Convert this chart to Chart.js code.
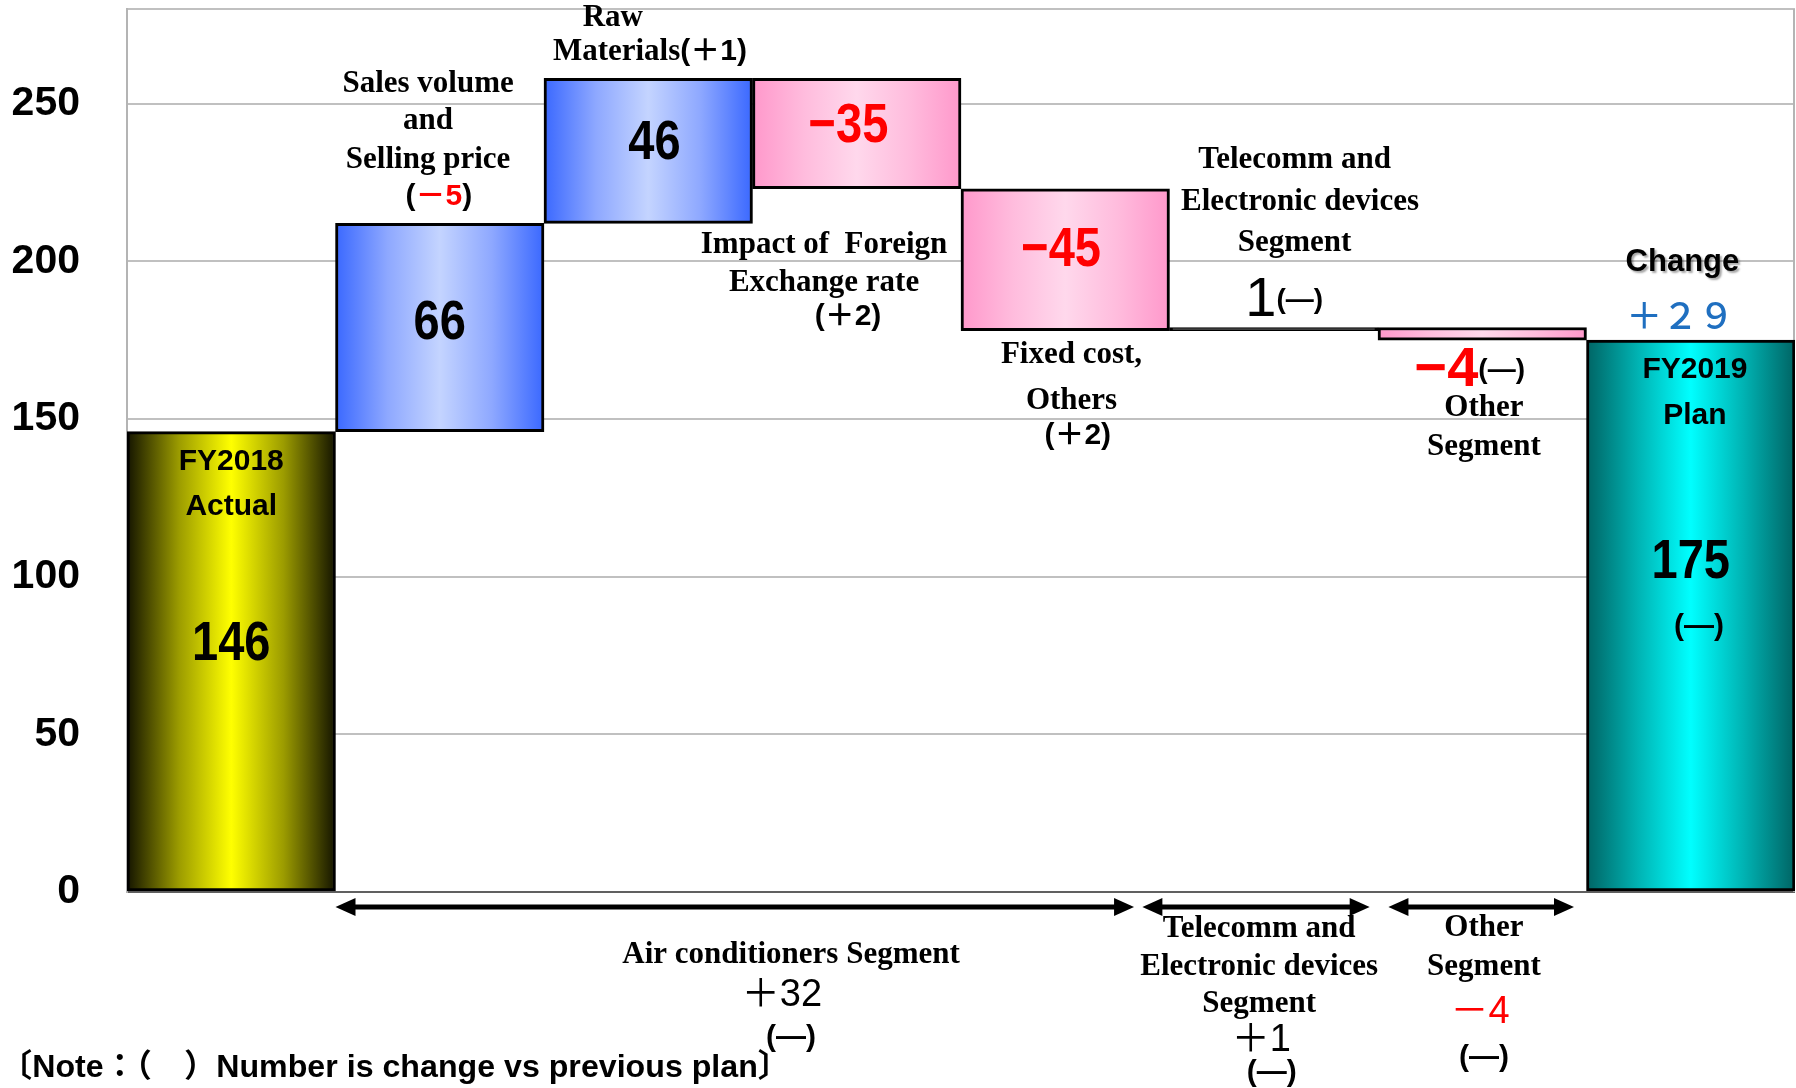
<!DOCTYPE html>
<html>
<head>
<meta charset="utf-8">
<script src="https://cdn.jsdelivr.net/npm/chart.js@4.4.0/dist/chart.umd.min.js"></script>
<style>
  html, body { margin: 0; padding: 0; background: #fff; }
  #chartContainer { width: 1796px; height: 1088px; position: relative; }
</style>
</head>
<body>
<div id="chartContainer"><canvas id="myChart"></canvas></div>
<script>
// bridge data (operating income), first and last are totals
const categories = [
    ['FY2018', 'Actual'],
    ['Sales volume', 'and', 'Selling price'],
    ['Raw', 'Materials'],
    ['Impact of  Foreign', 'Exchange rate'],
    ['Fixed cost,', 'Others'],
    ['Telecomm and', 'Electronic devices', 'Segment'],
    ['Other', 'Segment'],
    ['FY2019', 'Plan']
];
const amounts = [146, 66, 46, -35, -45, 1, -4, 175];
const vsPrevPlan = ['', '－5', '＋1', '＋2', '＋2', '—', '—', '—'];
const yTicks = [0, 50, 100, 150, 200, 250];
const yMax = 280;
const segmentNames = [
    ['Air conditioners Segment'],
    ['Telecomm and', 'Electronic devices', 'Segment'],
    ['Other', 'Segment']
];
const segmentChange = [32, 1, -4];
const segmentVsPrev = ['—', '—', '—'];
const totalChange = 29;
const noteText = '〔Note：（　）Number is change vs previous plan〕';

const RED = '#ff0000';
const BLUE = '#1f6fc0';
const SERIF = 'bold 31px "Liberation Serif", serif';
function goth(size, w) {
    return (w || 'bold') + ' ' + size + 'px "Liberation Sans", "Noto Sans CJK JP", sans-serif';
}
const BIG = goth(56);

function sgn(v) { return v < 0 ? '−' + Math.abs(v) : String(v); }
function plus(v) { return v < 0 ? '－' + Math.abs(v) : '＋' + v; }
function wide(s) { return s.replace(/[0-9]/g, d => String.fromCharCode(d.charCodeAt(0) + 0xFEE0)); }

// floating bars [from, to]
function buildSteps() {
    let run = 0;
    const out = [];
    amounts.forEach((a, i) => {
        if (i === 0 || i === amounts.length - 1) {
            out.push([0, a]);
            run = a;
        } else {
            out.push([run, run + a]);
            run += a;
        }
    });
    return out;
}

function barFill(c) {
    const chart = c.chart;
    if (!chart.chartArea || c.dataIndex === undefined) return '#999';
    const i = c.dataIndex;
    // a one-unit step is only a few px tall: shows as a black line
    if (Math.abs(amounts[i]) <= 1) return '#000';
    const xs = chart.scales.x;
    const half = xs.width / categories.length / 2;
    const cx = xs.getPixelForValue(i);
    const g = chart.ctx.createLinearGradient(cx - half, 0, cx + half, 0);
    let stops;
    if (i === 0) {
        stops = ['#141400', '#9c9c00', '#ffff00', '#9c9c00', '#141400'];
    } else if (i === amounts.length - 1) {
        stops = ['#006464', '#00b4b4', '#00ffff', '#00b4b4', '#006464'];
    } else if (amounts[i] >= 0) {
        stops = ['#3a68ff', '#8ea8ff', '#c4d4ff', '#8ea8ff', '#3a68ff'];
    } else {
        stops = ['#ff98cb', '#ffbcdd', '#ffd8ec', '#ffbcdd', '#ff98cb'];
    }
    stops.forEach((s, k) => g.addColorStop(k / (stops.length - 1), s));
    return g;
}

function lab(i, v, runs, extra) {
    return Object.assign({ i: i, v: v, runs: runs }, extra || {});
}

function labelList() {
    const c = categories;
    const L = [];
    // FY2018
    L.push(lab(0, 136.4, [[c[0][0], goth(30)]]));
    L.push(lab(0, 122.1, [[c[0][1], goth(30)]]));
    L.push(lab(0, 78.6, [[sgn(amounts[0]), BIG]], { sx: 0.84 }));
    // sales volume
    L.push(lab(0.944, 256.2, [[c[1][0], SERIF]]));
    L.push(lab(0.944, 244.5, [[c[1][1], SERIF]]));
    L.push(lab(0.944, 232.1, [[c[1][2], SERIF]]));
    L.push(lab(0.996, 220.4, [['(', goth(30)], [vsPrevPlan[1], goth(30), RED], [')', goth(30)]]));
    L.push(lab(1.0, 180.1, [[sgn(amounts[1]), BIG]], { sx: 0.84 }));
    // raw materials
    L.push(lab(1.83, 277.1, [[c[2][0], SERIF]]));
    L.push(lab(2.008, 266.4, [[c[2][1], SERIF], ['(' + vsPrevPlan[2] + ')', goth(30)]]));
    L.push(lab(2.03, 237.2, [[sgn(amounts[2]), BIG]], { sx: 0.84 }));
    // foreign exchange
    L.push(lab(2.96, 242.6, [[sgn(amounts[3]), BIG, RED]], { sx: 0.84 }));
    L.push(lab(2.843, 205.2, [[c[3][0], SERIF]]));
    L.push(lab(2.843, 193.1, [[c[3][1], SERIF]]));
    L.push(lab(2.958, 182.3, [['(' + vsPrevPlan[3] + ')', goth(30)]]));
    // fixed cost
    L.push(lab(3.98, 203.3, [[sgn(amounts[4]), BIG, RED]], { sx: 0.84 }));
    L.push(lab(4.03, 170.3, [[c[4][0], SERIF]]));
    L.push(lab(4.03, 155.7, [[c[4][1], SERIF]]));
    L.push(lab(4.06, 144.6, [['(' + vsPrevPlan[4] + ')', goth(30)]]));
    // telecomm
    L.push(lab(5.10, 232.1, [[c[5][0], SERIF]]));
    L.push(lab(5.126, 218.8, [[c[5][1], SERIF]]));
    L.push(lab(5.10, 205.8, [[c[5][2], SERIF]]));
    L.push(lab(5.05, 187.7, [[sgn(amounts[5]), goth(56, 'normal')], ['(' + vsPrevPlan[5] + ')', goth(28)]]));
    // other
    L.push(lab(5.94, 165.5, [[sgn(amounts[6]), BIG, RED], ['(' + vsPrevPlan[6] + ')', goth(28)]]));
    L.push(lab(6.008, 153.5, [[c[6][0], SERIF]]));
    L.push(lab(6.008, 141.1, [[c[6][1], SERIF]]));
    // FY2019 plan
    L.push(lab(6.96, 199.5, [['Change', goth(31)]], { shadow: true }));
    L.push(lab(6.95, 183.0, [[wide(plus(totalChange)), '500 36px "Noto Sans CJK JP", sans-serif', BLUE]]));
    L.push(lab(7.02, 165.5, [[c[7][0], goth(30)]]));
    L.push(lab(7.02, 150.9, [[c[7][1], goth(30)]]));
    L.push(lab(7.0, 104.6, [[sgn(amounts[7]), BIG]], { sx: 0.84 }));
    L.push(lab(7.04, 84.0, [['(' + vsPrevPlan[7] + ')', goth(30)]]));
    // segments below the axis
    L.push(lab(2.685, -20.0, [[segmentNames[0][0], SERIF]]));
    L.push(lab(2.641, -32.7, [[plus(segmentChange[0]), goth(38, 'normal')]]));
    L.push(lab(2.685, -46.3, [['(' + segmentVsPrev[0] + ')', goth(30)]]));
    L.push(lab(4.93, -11.6, [[segmentNames[1][0], SERIF]]));
    L.push(lab(4.93, -23.7, [[segmentNames[1][1], SERIF]]));
    L.push(lab(4.93, -35.5, [[segmentNames[1][2], SERIF]]));
    L.push(lab(4.94, -47.2, [[plus(segmentChange[1]), goth(38, 'normal')]]));
    L.push(lab(4.99, -57.4, [['(' + segmentVsPrev[1] + ')', goth(30)]]));
    L.push(lab(6.008, -11.4, [[segmentNames[2][0], SERIF]]));
    L.push(lab(6.008, -23.8, [[segmentNames[2][1], SERIF]]));
    L.push(lab(5.99, -38.1, [[plus(segmentChange[2]), goth(38, 'normal'), RED]]));
    L.push(lab(6.008, -52.6, [['(' + segmentVsPrev[2] + ')', goth(30)]]));
    return L;
}

function drawLabel(ctx, x, y, spec) {
    const sx = spec.sx || 1;
    ctx.save();
    let total = 0;
    const w = spec.runs.map(r => { ctx.font = r[1]; const m = ctx.measureText(r[0]).width; total += m; return m; });
    ctx.translate(x - total * sx / 2, y);
    ctx.scale(sx, 1);
    ctx.textBaseline = 'middle';
    ctx.textAlign = 'left';
    if (spec.shadow) {
        ctx.shadowColor = 'rgba(0,0,0,0.35)';
        ctx.shadowOffsetX = 2;
        ctx.shadowOffsetY = 2;
        ctx.shadowBlur = 2;
    }
    let cx = 0;
    spec.runs.forEach((r, k) => {
        ctx.font = r[1];
        ctx.fillStyle = r[2] || '#000';
        ctx.fillText(r[0], cx, 0);
        cx += w[k];
    });
    ctx.restore();
}

function drawArrow(ctx, x1, x2, y) {
    const head = 20, hh = 9;
    ctx.save();
    ctx.fillStyle = '#000';
    ctx.strokeStyle = '#000';
    ctx.lineWidth = 5;
    ctx.beginPath();
    ctx.moveTo(x1 + head - 2, y);
    ctx.lineTo(x2 - head + 2, y);
    ctx.stroke();
    ctx.beginPath();
    ctx.moveTo(x1, y); ctx.lineTo(x1 + head, y - hh); ctx.lineTo(x1 + head, y + hh); ctx.closePath();
    ctx.fill();
    ctx.beginPath();
    ctx.moveTo(x2, y); ctx.lineTo(x2 - head, y - hh); ctx.lineTo(x2 - head, y + hh); ctx.closePath();
    ctx.fill();
    ctx.restore();
}

const annotate = {
    id: 'annotate',
    beforeDatasetsDraw(chart) {
        const a = chart.chartArea, ctx = chart.ctx;
        ctx.save();
        ctx.strokeStyle = '#b4b4b4';
        ctx.lineWidth = 2;
        ctx.beginPath();
        ctx.moveTo(a.right - 1, a.top);
        ctx.lineTo(a.right - 1, a.bottom);
        ctx.stroke();
        ctx.restore();
    },
    afterDraw(chart) {
        const ctx = chart.ctx, xs = chart.scales.x, ys = chart.scales.y;
        labelList().forEach(s => drawLabel(ctx, xs.getPixelForValue(s.i), ys.getPixelForValue(s.v), s));
        // segment spans
        const ay = ys.getPixelForValue(-4.76);
        drawArrow(ctx, xs.getPixelForValue(0.5), xs.getPixelForValue(4.33), ay);
        drawArrow(ctx, xs.getPixelForValue(4.37), xs.getPixelForValue(5.46), ay);
        drawArrow(ctx, xs.getPixelForValue(5.55), xs.getPixelForValue(6.44), ay);
        // note
        ctx.save();
        ctx.font = goth(32);
        const nw = ctx.measureText(noteText).width;
        ctx.translate(0, chart.height - 20);
        ctx.scale(790 / nw, 1);
        ctx.fillStyle = '#000';
        ctx.textBaseline = 'middle';
        ctx.fillText(noteText, 0, 0);
        ctx.restore();
    }
};

const ctx = document.getElementById('myChart');
new Chart(ctx, {
    type: 'bar',
    data: {
        labels: categories,
        datasets: [{
            data: buildSteps(),
            backgroundColor: barFill,
            borderColor: '#000',
            borderWidth: 3,
            borderSkipped: false,
            barPercentage: 1,
            categoryPercentage: 1
        }]
    },
    options: {
        responsive: true,
        maintainAspectRatio: false,
        animation: false,
        events: [],
        layout: { padding: { left: 0, top: 9, right: 1, bottom: 196 } },
        plugins: { legend: { display: false }, tooltip: { enabled: false } },
        scales: {
            x: { display: false },
            y: {
                min: 0,
                max: yMax,
                afterFit: s => {
                    s.width = 127;
                    s.paddingTop = 0;
                    s.paddingBottom = 0;
                },
                afterBuildTicks: s => {
                    s.ticks = yTicks.map(v => ({ value: v })).concat([{ value: yMax }]);
                },
                ticks: {
                    padding: 47,
                    color: '#000',
                    font: { family: 'Liberation Sans', size: 41, weight: 'bold' },
                    callback: v => (yTicks.includes(v) ? v : '')
                },
                grid: {
                    drawTicks: false,
                    lineWidth: 2,
                    color: c => (c.tick && c.tick.value === 0 ? '#606060' : '#c0c0c0')
                },
                border: { display: true, color: '#b4b4b4', width: 2 }
            }
        }
    },
    plugins: [annotate]
});
</script>
</body>
</html>
